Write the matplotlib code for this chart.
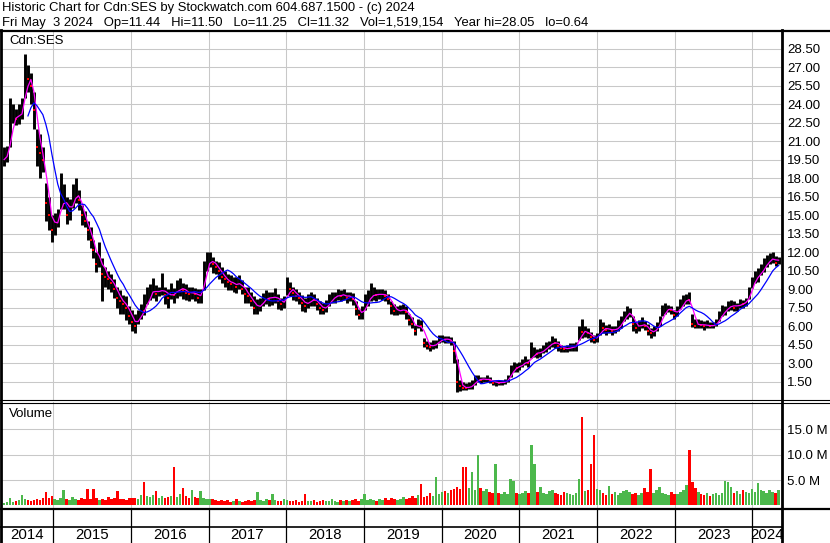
import numpy as np
import pandas as pd
import matplotlib
matplotlib.use('Agg')
import matplotlib.pyplot as plt

plt.rcParams['font.family'] = ['Liberation Sans', 'DejaVu Sans']

# bi-weekly bars (Cdn:SES, May 2014 - May 2024)
closes = [
    19.5, 20.0, 22.5, 23.3, 22.8, 23.0, 23.8, 26.5, 26.0, 25.5, 23.5, 20.5, 20.0, 19.5, 16.0, 15.0, 13.8,
    14.5, 14.8, 16.5, 16.5, 15.0, 15.5, 16.5, 17.0, 16.2, 15.0, 14.5, 13.8, 13.0, 12.2, 11.0, 11.8, 10.2,
    10.0, 9.8, 9.5, 9.0, 8.3, 8.0, 7.8, 7.5, 6.8, 6.3,
    6.0, 6.8, 7.4, 7.2, 8.5, 8.8, 9.0, 8.6, 8.8, 9.2, 8.5, 8.3, 8.8, 8.5, 9.0, 9.2, 8.9, 8.7, 8.6, 8.8,
    8.6, 8.3, 8.5, 10.5, 11.2, 11.5,
    11.0, 10.8, 10.5, 10.0, 9.8, 9.6, 9.4, 9.5, 9.2, 9.6, 9.0, 8.6, 8.4, 8.0, 7.5, 7.5, 7.8, 8.2, 8.4,
    8.2, 8.3, 8.5, 8.0, 7.8, 8.0, 9.2,
    9.0, 8.7, 8.4, 8.3, 7.9, 7.6, 8.0, 8.3, 8.1, 7.8, 7.5, 7.3, 7.6, 8.1, 8.3, 8.4, 8.6, 8.4, 8.6, 8.3,
    8.4, 8.2, 7.4, 6.9, 7.0, 7.8,
    8.3, 8.5, 8.6, 8.5, 8.6, 8.6, 8.4, 8.2, 7.6, 7.2, 7.2, 7.3, 7.4, 7.1, 6.5, 6.2, 5.6, 6.2, 6.0, 4.6,
    4.4, 4.3, 4.5, 4.6, 4.9, 5.0,
    4.9, 4.9, 4.8, 4.0, 1.5, 1.1, 1.0, 0.95, 1.1, 1.2, 1.6, 1.8, 1.6, 1.7, 1.7, 1.6, 1.35, 1.45, 1.4,
    1.4, 1.5, 1.7, 2.4, 2.7, 2.6, 2.8,
    3.0, 3.2, 3.0, 3.8, 3.9, 3.7, 3.9, 4.2, 4.3, 4.5, 4.8, 4.6, 4.4, 4.2, 4.1, 4.2, 4.3, 4.3, 4.4, 5.7,
    5.5, 5.5, 5.4, 5.1, 4.9, 5.1,
    5.9, 5.8, 5.7, 5.8, 5.6, 5.7, 6.0, 6.3, 6.8, 7.1, 7.2, 6.2, 5.8, 6.0, 6.3, 6.0, 5.6, 5.4, 5.6, 6.0,
    6.4, 7.2, 7.4, 7.4, 7.3, 6.9,
    7.2, 7.8, 8.0, 8.3, 8.1, 6.2, 6.0, 6.2, 6.1, 6.0, 6.1, 6.0, 6.0, 6.3, 6.8, 7.2, 7.3, 7.6, 7.8, 7.5,
    7.6, 7.9, 7.8, 8.0, 8.8, 9.6,
    10.0, 10.1, 10.5, 10.9, 11.3, 11.4, 11.6, 11.1, 11.32,
]
highs = [
    20.5, 20.6, 24.5, 24.0, 23.6, 24.0, 24.5, 28.05, 27.2, 26.5, 25.0, 22.0, 21.6, 20.5, 17.6, 16.5, 15.0,
    15.2, 15.5, 18.4, 17.5, 16.5, 16.3, 17.5, 18.0, 17.0, 15.8, 15.3, 14.5, 14.0, 13.0, 12.0, 12.8, 11.5,
    10.8, 10.5, 10.2, 9.8, 9.2, 8.9, 8.5, 8.4, 7.6, 7.3,
    7.0, 7.3, 7.8, 8.6, 9.2, 9.4, 9.9, 9.3, 9.2, 10.3, 9.2, 9.0, 9.5, 9.1, 9.7, 9.9, 9.5, 9.4, 9.2, 9.2,
    9.1, 9.0, 9.0, 11.3, 12.0, 12.0,
    11.6, 11.3, 11.2, 10.8, 10.5, 10.2, 10.1, 10.0, 10.0, 10.1, 9.7, 9.2, 9.2, 8.8, 8.4, 8.2, 8.3, 8.7,
    8.9, 8.8, 8.8, 9.1, 8.6, 8.3, 8.4, 10.0,
    9.6, 9.2, 9.0, 8.8, 8.5, 8.3, 8.6, 8.8, 8.6, 8.3, 8.0, 7.9, 8.1, 8.6, 8.8, 8.8, 9.0, 8.9, 9.0, 8.8,
    8.8, 8.7, 8.0, 7.4, 7.6, 8.6,
    8.9, 9.5, 9.2, 9.0, 9.0, 9.0, 8.9, 8.6, 8.0, 7.8, 7.6, 7.7, 7.8, 7.6, 7.0, 6.7, 6.1, 6.6, 6.5, 5.0,
    4.8, 4.7, 4.9, 4.9, 5.3, 5.3,
    5.2, 5.2, 5.1, 4.8, 3.3, 1.6, 1.5, 1.4, 1.5, 1.6, 2.0, 2.0, 1.9, 1.9, 2.0, 1.9, 1.6, 1.6, 1.6,
    1.6, 1.7, 2.0, 2.8, 3.1, 3.0, 3.1,
    3.3, 3.6, 3.3, 4.7, 4.3, 4.1, 4.2, 4.5, 4.7, 4.8, 5.2, 5.0, 4.8, 4.5, 4.4, 4.5, 4.6, 4.6, 4.7, 6.0,
    6.6, 6.0, 5.8, 5.5, 5.3, 5.4,
    6.6, 6.3, 6.1, 6.2, 6.0, 6.0, 6.5, 6.8, 7.2, 7.6, 7.5, 6.8, 6.3, 6.5, 6.7, 6.4, 6.2, 5.8, 6.0, 6.3,
    6.8, 7.7, 7.9, 7.7, 7.6, 7.3,
    7.6, 8.2, 8.5, 8.6, 8.75, 7.0, 6.6, 6.6, 6.5, 6.4, 6.5, 6.3, 6.3, 6.6, 7.2, 7.7, 7.6, 8.0, 8.1, 8.0,
    7.9, 8.2, 8.1, 8.3, 9.2, 10.0,
    10.5, 10.7, 11.0, 11.5, 11.8, 11.9, 12.0, 11.7, 11.6,
]
lows = [
    19.0, 19.3, 20.5, 22.5, 22.3, 22.4, 22.8, 24.5, 25.0, 24.0, 22.0, 19.0, 18.0, 18.5, 14.5, 13.8, 12.8,
    13.4, 14.0, 15.5, 15.5, 14.3, 14.6, 15.6, 16.0, 15.4, 14.2, 14.0, 13.0, 12.3, 11.5, 10.4, 10.8, 8.0,
    9.2, 9.0, 8.8, 8.3, 7.5, 7.0, 7.0, 6.5, 6.2, 5.6,
    5.4, 6.2, 6.6, 6.9, 7.8, 8.1, 8.3, 8.0, 8.4, 8.5, 7.8, 7.5, 8.2, 7.9, 8.3, 8.4, 8.2, 8.1, 8.0, 8.2,
    8.0, 7.9, 7.9, 8.9, 10.5, 10.8,
    10.3, 10.2, 9.8, 9.5, 9.2, 8.9, 8.9, 8.8, 8.7, 9.0, 8.6, 7.9, 7.9, 7.6, 7.0, 7.0, 7.2, 7.6, 7.8,
    7.6, 7.7, 7.9, 7.4, 7.3, 7.5, 8.5,
    8.4, 8.1, 8.0, 7.8, 7.2, 7.1, 7.5, 7.6, 7.6, 7.3, 7.0, 7.0, 7.1, 7.6, 7.9, 7.9, 8.1, 8.0, 8.1, 7.9,
    8.0, 7.7, 6.9, 6.6, 6.6, 7.3,
    7.6, 8.0, 8.1, 8.0, 8.2, 8.1, 8.0, 7.8, 7.0, 6.9, 6.9, 7.0, 7.0, 6.6, 6.1, 5.8, 5.3, 5.8, 5.6, 4.3,
    4.1, 4.0, 4.1, 4.2, 4.6, 4.7,
    4.6, 4.6, 4.5, 3.0, 0.64, 0.7, 0.8, 0.8, 0.9, 0.9, 1.2, 1.5, 1.4, 1.5, 1.5, 1.4, 1.2, 1.1, 1.2,
    1.2, 1.3, 1.5, 1.9, 2.3, 2.3, 2.4,
    2.7, 2.8, 2.7, 3.4, 3.5, 3.4, 3.5, 3.8, 3.9, 4.1, 4.3, 4.2, 4.0, 3.9, 3.9, 3.9, 4.0, 4.0, 4.0, 4.9,
    5.0, 5.1, 5.0, 4.7, 4.6, 4.7,
    5.3, 5.4, 5.3, 5.4, 5.3, 5.4, 5.6, 5.8, 6.4, 6.6, 6.7, 5.6, 5.4, 5.6, 5.8, 5.7, 5.3, 5.0, 5.2, 5.6,
    6.0, 6.8, 7.0, 7.1, 7.0, 6.6,
    6.8, 7.4, 7.6, 7.8, 7.8, 5.9, 5.8, 5.8, 5.8, 5.7, 5.8, 5.8, 5.8, 6.0, 6.4, 6.8, 6.9, 7.2, 7.3, 7.2,
    7.2, 7.5, 7.5, 7.6, 8.2, 9.1,
    9.5, 9.6, 10.1, 10.4, 10.8, 11.0, 11.1, 10.9, 11.0,
]
# volume in millions of shares
volume = [
    0.5, 0.6, 1.5, 0.6, 0.9, 1.0, 2.1, 1.2, 1.0, 0.9, 1.1, 1.3, 1.0, 1.4, 2.7, 1.5, 1.8,
    1.2, 1.0, 1.4, 3.0, 1.3, 1.1, 1.6, 1.2, 1.0, 1.5, 1.3, 3.2, 1.2, 3.3, 1.4, 1.1, 1.3, 1.0, 1.6,
    1.2, 1.4, 2.8, 1.2, 1.3, 1.0, 1.5, 1.4,
    1.5, 1.3, 2.0, 4.7, 1.8, 1.6, 2.0, 2.9, 1.5, 1.8, 1.4, 1.6, 1.9, 7.5, 1.7, 2.2, 3.4, 1.8, 1.5, 3.0,
    1.6, 1.4, 2.9, 1.5, 1.3, 1.2,
    1.2, 1.0, 0.9, 1.1, 0.8, 1.0, 0.7, 0.9, 1.2, 0.8, 0.7, 0.9, 1.0, 0.8, 1.1, 2.6, 1.0, 0.9, 1.3, 1.1,
    2.3, 1.0, 0.8, 0.9, 1.2, 1.0,
    0.9, 0.8, 1.0, 0.7, 0.9, 2.3, 0.8, 0.9, 1.1, 0.7, 0.8, 1.0, 0.9, 0.8, 1.2, 0.9, 0.7, 1.0, 0.8, 1.1,
    0.9, 1.0, 1.3, 0.9, 1.2, 2.3,
    1.0, 1.3, 1.1, 0.9, 1.2, 1.0, 1.4, 1.1, 1.5, 1.2, 1.0, 1.3, 1.6, 1.2, 1.4, 1.8, 1.5, 2.0, 4.2, 1.6,
    1.9, 2.4, 1.8, 5.6, 2.2, 2.6,
    2.8, 2.5, 3.0, 3.3, 3.6, 3.2, 7.6, 7.6, 3.5, 6.6, 3.0, 10.0, 3.4, 2.8, 3.3, 2.6, 2.4, 8.1, 2.5, 2.3,
    2.6, 2.2, 5.3, 4.8, 2.5, 2.2,
    2.4, 2.8, 2.5, 11.9, 8.2, 2.6, 3.6, 2.4, 2.2, 2.8, 3.0, 2.5, 2.3, 2.0, 2.6, 2.4, 2.2, 2.1, 2.5, 5.2,
    17.5, 2.8, 3.0, 8.1, 13.8, 3.2,
    3.0, 2.4, 2.0, 3.8, 2.2, 2.6, 2.0, 2.4, 2.8, 3.0, 2.6, 2.2, 2.5, 2.0, 2.4, 3.5, 2.7, 7.1, 2.5, 3.0,
    3.6, 2.4, 2.2, 2.0, 2.6, 2.3,
    2.2, 2.6, 3.0, 4.0, 11.0, 4.7, 3.5, 2.6, 2.2, 2.0, 2.4, 1.8, 2.2, 2.5, 2.0, 2.4, 4.8, 4.6, 3.6, 2.4,
    2.8, 2.2, 3.0, 2.6, 2.4, 3.3,
    2.6, 4.4, 3.0, 2.8, 2.5, 3.0, 2.6, 2.4, 3.1,
]
assert len(closes) == len(highs) == len(lows) == len(volume)

price_ticks = [1.5, 3.0, 4.5, 6.0, 7.5, 9.0, 10.5, 12.0, 13.5, 15.0, 16.5, 18.0, 19.5,
               21.0, 22.5, 24.0, 25.5, 27.0, 28.5]
vol_ticks = [5, 10, 15]
vol_labels = ['5.0 M', '10.0 M', '15.0 M']
year_labels = ['2014', '2015', '2016', '2017', '2018', '2019', '2020', '2021', '2022', '2023', '2024']

header1 = 'Historic Chart for Cdn:SES by Stockwatch.com 604.687.1500 - (c) 2024'
header2 = ('Fri May  3 2024   Op=11.44   Hi=11.50   Lo=11.25   Cl=11.32   Vol=1,519,154   '
           'Year hi=28.05   lo=0.64')

dates = pd.date_range(end='2024-05-03', periods=len(closes), freq='14D')
c = pd.Series(closes, index=dates)
ma_fast = c.rolling(3, min_periods=1).mean()
ma_slow = c.rolling(9).mean()
up = np.r_[True, np.diff(closes) >= 0]

GRID = '#c8c8c8'
GREEN = '#4cb84c'
W, H = 830, 543
xmin, xmax = pd.Timestamp('2014-05-06'), pd.Timestamp('2024-05-14')
year_starts = [pd.Timestamp(f'{y}-01-01') for y in range(2015, 2025)]

fig = plt.figure(figsize=(W / 100, H / 100), dpi=100)


def box(left, top, right, bottom):
    return [left / W, 1 - bottom / H, (right - left) / W, (bottom - top) / H]


# price panel
ax = fig.add_axes(box(2, 31, 781, 400))
ax.vlines(dates, lows, highs, color='black', lw=2.1)
ax.plot(dates[~up], np.array(closes)[~up], 's', color='red', ms=1.6, mew=0)
ax.plot(dates, ma_fast, color='#ff00ff', lw=0.9)
ax.plot(dates, ma_slow, color='#0000ff', lw=0.9)
ax.set_ylim(0, 29.93)
ax.set_yticks(price_ticks)
ax.set_yticklabels([f'{t:.2f}' for t in price_ticks])

# volume panel
axv = fig.add_axes(box(2, 402, 781, 508))
axv.bar(dates, volume, width=12, color=[GREEN if u else 'red' for u in up], lw=0)
axv.set_ylim(-0.5, 20.4)
axv.set_yticks(vol_ticks)
axv.set_yticklabels(vol_labels)

for a in (ax, axv):
    a.set_xlim(xmin, xmax)
    a.set_xticks(year_starts)
    a.grid(True, color=GRID, lw=0.75)
    a.set_axisbelow(True)
    a.tick_params(axis='x', length=0, labelbottom=False)
    a.tick_params(axis='y', left=False, labelleft=False, right=True, labelright=True,
                  length=0, pad=4.5, labelsize=9.5)
    for s in a.spines.values():
        s.set_visible(False)

# year strip
axy = fig.add_axes(box(2, 508, 781, 543))
axy.set_xlim(xmin, xmax)
axy.set_ylim(0, 1)
axy.axis('off')
edges = [xmin] + year_starts + [xmax]
for y in year_starts:
    axy.axvline(y, color='black', lw=0.9)
for lab, a, b in zip(year_labels, edges[:-1], edges[1:]):
    axy.text(a + (b - a) / 2, 0.24, lab, ha='center', va='center', fontsize=10.8)

# frame lines and labels in pixel coordinates
ov = fig.add_axes([0, 0, 1, 1], zorder=10)
ov.set_xlim(0, W)
ov.set_ylim(H, 0)
ov.axis('off')
ov.patch.set_alpha(0)
ov.plot([0, W], [30.5, 30.5], color='black', lw=1.6)
ov.plot([0, W], [400, 400], color='black', lw=0.8)
ov.plot([0, W], [402.5, 402.5], color='black', lw=0.8)
ov.plot([0, W], [508.5, 508.5], color='black', lw=1.6)
ov.plot([0, 782], [526.5, 526.5], color='black', lw=1.2)
ov.plot([1, 1], [30, H], color='black', lw=2)
ov.plot([782, 782], [30, H], color='black', lw=2)
ov.text(2, 10.5, header1, fontsize=9.4, va='baseline')
ov.text(2, 26, header2, fontsize=9.4, va='baseline')
ov.text(9, 41, 'Cdn:SES', fontsize=9.5, va='center')
ov.text(9, 414, 'Volume', fontsize=9.5, va='center')

fig.savefig('out.png', dpi=100)
